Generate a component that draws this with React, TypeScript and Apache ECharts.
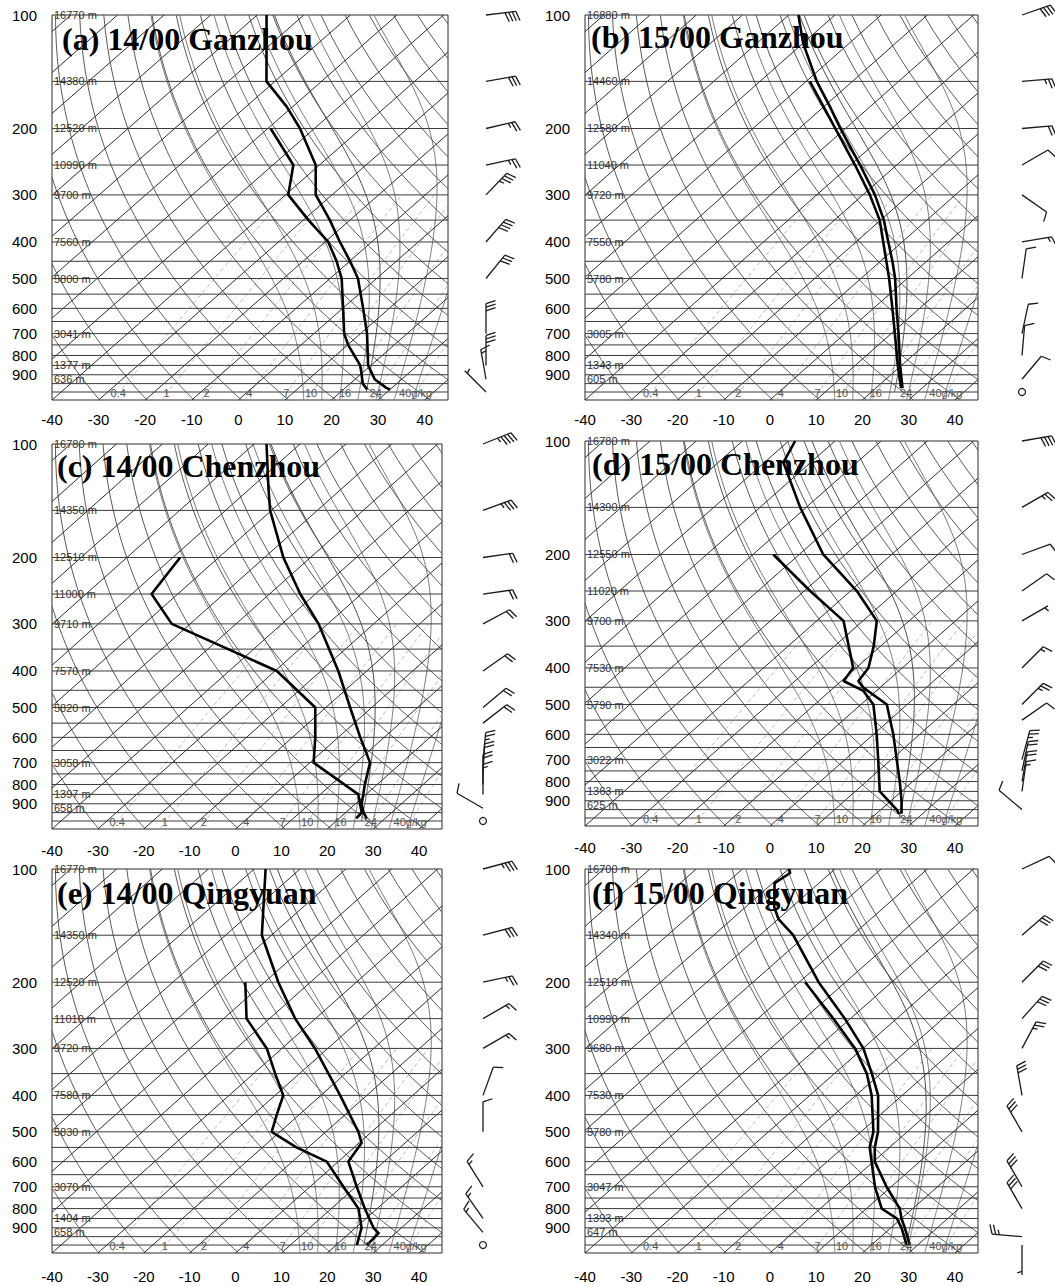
import React, { useEffect, useRef } from 'react';
import * as echarts from 'echarts';

// ---------------- data ----------------
const PANEL_TITLES = [
  '(a) 14/00 Ganzhou',
  '(b) 15/00 Ganzhou',
  '(c) 14/00 Chenzhou',
  '(d) 15/00 Chenzhou',
  '(e) 14/00 Qingyuan',
  '(f) 15/00 Qingyuan',
];
const PRESSURE_TICKS = [100, 200, 300, 400, 500, 600, 700, 800, 900];
const TEMP_TICKS = [-40, -30, -20, -10, 0, 10, 20, 30, 40];
const ISOBARS = [150, 200, 250, 300, 350, 400, 450, 500, 550, 600, 650, 700, 750, 800, 850, 900, 950, 1000];
const ISOTHERMS = [-130, -120, -110, -100, -90, -80, -70, -60, -50, -40, -30, -20, -10, 0, 10, 20, 30, 40];
const DRY_ADIABATS_K = [230, 240, 250, 260, 270, 280, 290, 300, 310, 320, 330, 340, 350, 360, 370, 380, 390, 400, 410, 420, 430, 440];
const MOIST_ADIABATS_C = [12, 16, 20, 24, 28, 32, 36];
const MIXING_RATIOS = [0.4, 1, 2, 4, 7, 10, 16, 24, 40];
const MIXING_LABELS = ['0.4', '1', '2', '4', '7', '10', '16', '24', '40g/kg'];
const HEIGHT_LEVELS = [100, 150, 200, 250, 300, 400, 500, 700, 850, 925];

const HEIGHTS_A = [16770, 14380, 12520, 10990, 9700, 7560, 5800, 3041, 1377, 636];
const HEIGHTS_B = [16880, 14460, 12580, 11040, 9720, 7550, 5780, 3005, 1343, 605];
const HEIGHTS_C = [16780, 14350, 12510, 11000, 9710, 7570, 5820, 3058, 1397, 658];
const HEIGHTS_D = [16780, 14390, 12550, 11020, 9700, 7530, 5790, 3022, 1363, 625];
const HEIGHTS_E = [16770, 14350, 12520, 11010, 9720, 7580, 5830, 3070, 1404, 658];
const HEIGHTS_F = [16700, 14340, 12510, 10990, 9680, 7530, 5780, 3047, 1393, 647];

// [pressure hPa, temperature degC]
const TEMP_A = [[100, -88.0], [150, -71.8], [175, -61.3], [200, -53.1], [250, -40.8], [300, -33.5], [350, -24.3], [400, -16.8], [450, -9.9], [500, -4.0], [600, 4.4], [700, 11.4], [850, 19.4], [925, 24.2], [975, 28.8], [985, 30.0]];
const DEWP_A = [[200, -59.4], [250, -45.6], [300, -39.4], [350, -28.9], [400, -19.3], [450, -12.8], [500, -7.5], [600, 0.1], [700, 6.5], [750, 10.1], [850, 17.7], [900, 20.3], [950, 22.7], [985, 25.1]];
const TEMP_B = [[100, -87.9], [119, -79.9], [150, -67.7], [175, -58.7], [200, -51.1], [250, -37.9], [300, -27.4], [350, -19.3], [400, -13.0], [450, -7.4], [500, -2.6], [600, 5.0], [700, 11.6], [850, 19.7], [925, 23.4], [977, 25.8]];
const DEWP_B = [[150, -69.2], [200, -52.2], [250, -39.0], [300, -28.5], [350, -20.2], [400, -14.1], [500, -3.9], [600, 4.1], [700, 10.8], [850, 19.2], [925, 23.0], [977, 25.5]];
const TEMP_C = [[100, -87.3], [130, -76.4], [150, -70.3], [200, -55.9], [250, -43.3], [300, -32.0], [400, -16.2], [500, -4.7], [600, 4.8], [700, 13.1], [800, 17.3], [850, 19.4], [900, 21.3], [950, 23.9], [984, 26.0]];
const DEWP_C = [[200, -78.4], [250, -75.7], [300, -64.0], [400, -29.6], [500, -12.3], [600, -5.0], [700, 0.8], [850, 18.3], [950, 23.5], [984, 23.7]];
const TEMP_D = [[100, -88.6], [114, -85.9], [150, -71.3], [200, -54.8], [250, -38.6], [300, -27.0], [350, -21.5], [400, -17.3], [433, -16.3], [451, -13.6], [500, -4.4], [600, 4.3], [700, 11.2], [800, 17.2], [900, 22.3], [975, 25.5]];
const DEWP_D = [[200, -65.6], [250, -48.7], [300, -34.2], [350, -26.9], [400, -20.6], [433, -19.5], [460, -12.8], [500, -7.3], [600, 0.7], [700, 7.2], [850, 15.3], [950, 23.4], [975, 25.0]];
const TEMP_E = [[100, -87.5], [150, -72.1], [200, -57.0], [250, -44.4], [300, -32.8], [400, -15.8], [500, -2.9], [535, 0.5], [600, 2.2], [700, 10.2], [800, 17.3], [900, 23.9], [930, 26.3], [1000, 26.7]];
const DEWP_E = [[200, -64.2], [250, -55.0], [300, -43.3], [350, -35.3], [400, -28.2], [450, -24.9], [500, -21.8], [550, -12.6], [600, -2.5], [700, 7.3], [800, 15.9], [850, 18.7], [900, 21.3], [1000, 24.5]];
const TEMP_F = [[100, -89.9], [102.5, -88.7], [109, -89.6], [126, -83.9], [136, -79.9], [150, -72.8], [200, -55.8], [250, -41.2], [300, -29.9], [350, -21.9], [400, -15.2], [500, -6.3], [550, -3.2], [600, 0.3], [700, 9.0], [800, 17.2], [850, 20.0], [900, 23.0], [1000, 28.3]];
const DEWP_F = [[200, -58.7], [250, -43.7], [300, -31.7], [350, -23.0], [400, -16.6], [500, -7.3], [550, -4.3], [600, -0.4], [700, 6.5], [800, 13.3], [850, 19.0], [900, 22.3], [1000, 27.6]];

// parcel (moist adiabat) starting temperature at 1000 hPa
const PARCEL_START = [25.5, 25.0, 25.5, 26.0, 26.0, 27.5];

// [pressure hPa, direction deg (from), speed m/s]
const WIND_A = [[100, 83, 16], [150, 80, 12], [200, 77, 10], [250, 78, 10], [300, 44, 14], [400, 41, 16], [500, 39, 12], [700, 0, 12], [850, 0, 12], [925, 350, 6], [1000, 315, 2]];
const WIND_B = [[100, 71, 16], [150, 85, 10], [200, 85, 8], [250, 60, 4], [300, 125, 4], [400, 80, 6], [500, 8, 4], [700, 12, 4], [800, 5, 4], [925, 40, 4], [1000, 0, 0]];
const WIND_C = [[100, 68, 18], [150, 70, 14], [200, 82, 8], [250, 82, 8], [300, 62, 8], [400, 55, 8], [500, 50, 8], [550, 52, 8], [700, 5, 10], [750, 3, 8], [800, 0, 8], [850, 0, 6], [925, 300, 4], [1000, 0, 0]];
const WIND_D = [[100, 80, 16], [150, 60, 10], [200, 70, 4], [250, 55, 4], [300, 60, 2], [400, 45, 6], [500, 45, 10], [550, 55, 4], [700, 15, 10], [750, 12, 8], [800, 10, 8], [850, 8, 6], [950, 310, 4]];
const WIND_E = [[100, 75, 14], [150, 75, 12], [200, 78, 10], [250, 60, 6], [300, 60, 6], [400, 20, 4], [500, 0, 4], [700, 328, 6], [850, 325, 6], [925, 320, 6], [1000, 0, 0]];
const WIND_F = [[100, 65, 4], [150, 49, 12], [200, 45, 12], [250, 42, 12], [300, 28, 10], [400, 350, 12], [500, 330, 12], [700, 330, 12], [800, 330, 12], [950, 275, 10], [1000, 180, 2]];

// ---------------- layout ----------------
const GRIDS = [
  { left: 52, top: 15, width: 396, height: 385 },
  { left: 585, top: 15, width: 393, height: 385 },
  { left: 52, top: 444, width: 390, height: 385 },
  { left: 585, top: 441, width: 393, height: 385 },
  { left: 52, top: 869, width: 390, height: 384 },
  { left: 585, top: 869, width: 393, height: 384 },
];
const TITLE_POS = [
  { left: 62, top: 23 },
  { left: 591, top: 21 },
  { left: 57, top: 450 },
  { left: 592, top: 448 },
  { left: 57, top: 877 },
  { left: 592, top: 877 },
];
const X_LABEL_MARGIN = [12, 12, 14, 14, 16, 16];
const BARB_GAP = [38, 44, 41, 44, 41, 44];

const SANS = '"Liberation Sans", Arial, Helvetica, sans-serif';
const SERIF = '"Liberation Serif", "Times New Roman", serif';

// ---------------- skew-T geometry ----------------
const K = 40; // skew (deg C per unit ln p)
const P0 = 1050;
const XMIN = -40;
const XMAX = 45;
const LNP_TOP = Math.log(100);
const LNP_BOT = Math.log(1050);
const skewX = (p: number, t: number) => t + K * Math.log(P0 / p);

const Rd = 287.04, Cp = 1005.7, Lv = 2.501e6, EPS = 0.622;
const esat = (tc: number) => 6.112 * Math.exp((17.67 * tc) / (tc + 243.5));
function dTdp(p: number, tk: number) {
  const e = esat(tk - 273.15);
  const rs = (EPS * e) / (p - e);
  return (Rd * tk + Lv * rs) / (p * (Cp + (Lv * Lv * rs * EPS) / (Rd * tk * tk)));
}
function moist(t0: number, pStart: number, pEnd: number) {
  const out: number[][] = [];
  let p = pStart;
  let t = t0 + 273.15;
  const h = pEnd < pStart ? -5 : 5;
  out.push([p, t - 273.15]);
  while ((h < 0 && p > pEnd) || (h > 0 && p < pEnd)) {
    const k1 = dTdp(p, t);
    const k2 = dTdp(p + h / 2, t + (h / 2) * k1);
    const k3 = dTdp(p + h / 2, t + (h / 2) * k2);
    const k4 = dTdp(p + h, t + h * k3);
    t += (h / 6) * (k1 + 2 * k2 + 2 * k3 + k4);
    p += h;
    out.push([p, t - 273.15]);
  }
  return out;
}
function dewFromMix(p: number, w: number) {
  const r = w / 1000;
  const e = (p * r) / (EPS + r);
  const l = Math.log(e / 6.112);
  return (243.5 * l) / (17.67 - l);
}

function clipPolyline(pts: number[][]) {
  const out: number[][][] = [];
  let cur: number[][] = [];
  for (let i = 0; i < pts.length - 1; i++) {
    const [x1, y1] = pts[i];
    const [x2, y2] = pts[i + 1];
    const dx = x2 - x1;
    let t0 = 0, t1 = 1;
    if (Math.abs(dx) < 1e-12) {
      if (x1 < XMIN || x1 > XMAX) { t0 = 1; t1 = 0; }
    } else {
      let ta = (XMIN - x1) / dx, tb = (XMAX - x1) / dx;
      if (ta > tb) { const s = ta; ta = tb; tb = s; }
      t0 = Math.max(0, ta);
      t1 = Math.min(1, tb);
    }
    if (t0 > t1) {
      if (cur.length > 1) out.push(cur);
      cur = [];
      continue;
    }
    const a = [x1 + dx * t0, y1 + (y2 - y1) * t0];
    const b = [x1 + dx * t1, y1 + (y2 - y1) * t1];
    if (cur.length === 0) cur.push(a);
    else {
      const l = cur[cur.length - 1];
      if (Math.abs(l[0] - a[0]) > 1e-9 || Math.abs(l[1] - a[1]) > 1e-9) {
        if (cur.length > 1) out.push(cur);
        cur = [a];
      }
    }
    cur.push(b);
    if (t1 < 1) {
      if (cur.length > 1) out.push(cur);
      cur = [];
    }
  }
  if (cur.length > 1) out.push(cur);
  return out;
}

const PSAMPLE: number[] = [];
for (let p = 1050; p >= 100; p -= 10) PSAMPLE.push(p);

function isothermLines() {
  const res: number[][][] = [];
  ISOTHERMS.forEach((t) => {
    res.push(...clipPolyline([[skewX(1050, t), LNP_BOT], [skewX(100, t), LNP_TOP]]));
  });
  return res;
}
function dryLines() {
  const res: number[][][] = [];
  DRY_ADIABATS_K.forEach((th) => {
    const pts = PSAMPLE.map((p) => [skewX(p, th * Math.pow(p / 1000, 0.2857) - 273.15), Math.log(p)]);
    res.push(...clipPolyline(pts));
  });
  return res;
}
function moistLines() {
  const res: number[][][] = [];
  MOIST_ADIABATS_C.forEach((t0) => {
    const up = moist(t0, 1000, 100);
    const down = moist(t0, 1000, 1050).reverse();
    const all = down.concat(up.slice(1));
    res.push(...clipPolyline(all.map(([p, t]) => [skewX(p, t), Math.log(p)])));
  });
  return res;
}
function mixingLines() {
  const res: number[][][] = [];
  MIXING_RATIOS.forEach((w) => {
    const pts: number[][] = [];
    for (let p = 1050; p >= 300; p -= 10) pts.push([skewX(p, dewFromMix(p, w)), Math.log(p)]);
    res.push(...clipPolyline(pts));
  });
  return res;
}
function isobarLines() {
  return ISOBARS.map((p) => [[XMIN, Math.log(p)], [XMAX, Math.log(p)]]);
}

const PANELS = [
  { heights: HEIGHTS_A, temp: TEMP_A, dewp: DEWP_A, wind: WIND_A },
  { heights: HEIGHTS_B, temp: TEMP_B, dewp: DEWP_B, wind: WIND_B },
  { heights: HEIGHTS_C, temp: TEMP_C, dewp: DEWP_C, wind: WIND_C },
  { heights: HEIGHTS_D, temp: TEMP_D, dewp: DEWP_D, wind: WIND_D },
  { heights: HEIGHTS_E, temp: TEMP_E, dewp: DEWP_E, wind: WIND_E },
  { heights: HEIGHTS_F, temp: TEMP_F, dewp: DEWP_F, wind: WIND_F },
];

function barbElements(sx: number, sy: number, dirDeg: number, spd: number) {
  const stroke = '#1a1a1a';
  const els: any[] = [];
  const ln = (x1: number, y1: number, x2: number, y2: number) => ({
    type: 'line',
    shape: { x1, y1, x2, y2 },
    style: { stroke, lineWidth: 1.3 },
  });
  if (spd < 1) {
    els.push({ type: 'circle', shape: { cx: sx, cy: sy, r: 3.5 }, style: { stroke, fill: 'none', lineWidth: 1.2 } });
    return els;
  }
  const d = (dirDeg * Math.PI) / 180;
  const ux = Math.sin(d), uy = -Math.cos(d);
  const nx = -uy, ny = ux;
  const L = 30, BL = 10, SP = 3.6;
  const tx = sx + ux * L, ty = sy + uy * L;
  els.push(ln(sx, sy, tx, ty));
  const a = (72 * Math.PI) / 180;
  const bx = nx * Math.sin(a) + ux * Math.cos(a);
  const by = ny * Math.sin(a) + uy * Math.cos(a);
  let rem = Math.round(spd / 2) * 2;
  let pos = 0;
  while (rem >= 20) {
    const px = tx - ux * pos, py = ty - uy * pos;
    const qx = tx - ux * (pos + SP * 1.6), qy = ty - uy * (pos + SP * 1.6);
    els.push({ type: 'polygon', shape: { points: [[px, py], [px + bx * BL, py + by * BL], [qx, qy]] }, style: { fill: stroke } });
    rem -= 20;
    pos += SP * 2;
  }
  while (rem >= 4) {
    const px = tx - ux * pos, py = ty - uy * pos;
    els.push(ln(px, py, px + bx * BL, py + by * BL));
    rem -= 4;
    pos += SP;
  }
  if (rem >= 2) {
    if (pos === 0) pos = SP;
    const px = tx - ux * pos, py = ty - uy * pos;
    els.push(ln(px, py, px + (bx * BL) / 2, py + (by * BL) / 2));
  }
  return els;
}

function buildOption() {
  const grid: any[] = [];
  const xAxis: any[] = [];
  const yAxis: any[] = [];
  const title: any[] = [];
  const series: any[] = [];
  const isoT = isothermLines();
  const dry = dryLines();
  const wet = moistLines();
  const mix = mixingLines();
  const bars = isobarLines();
  const labP = 1008;

  PANELS.forEach((pn, i) => {
    grid.push({ ...GRIDS[i], show: true, borderColor: '#2a2a2a', borderWidth: 1, backgroundColor: '#fff' });
    xAxis.push({
      type: 'value', gridIndex: i, min: XMIN, max: XMAX, interval: 10,
      axisLine: { show: false }, axisTick: { show: false }, splitLine: { show: false },
      axisLabel: { customValues: TEMP_TICKS, margin: X_LABEL_MARGIN[i], color: '#000', fontSize: 15, fontFamily: SANS, formatter: (v: number) => String(v) },
    });
    yAxis.push({
      type: 'value', gridIndex: i, inverse: true, min: LNP_TOP, max: LNP_BOT,
      axisLine: { show: false }, axisTick: { show: false }, splitLine: { show: false },
      axisLabel: {
        customValues: PRESSURE_TICKS.map((p) => Math.log(p)), margin: 15, color: '#000', fontSize: 15, fontFamily: SANS,
        formatter: (v: number) => String(Math.round(Math.exp(v))),
      },
    });
    title.push({
      text: PANEL_TITLES[i], left: TITLE_POS[i].left, top: TITLE_POS[i].top, padding: 0,
      textStyle: { fontFamily: SERIF, fontWeight: 'bold', fontSize: 32, color: '#000' },
    });

    const bg = (data: number[][][], color: string, width: number, z: number, type: any = 'solid') => ({
      type: 'lines', coordinateSystem: 'cartesian2d', xAxisIndex: i, yAxisIndex: i, polyline: true, silent: true, z,
      lineStyle: { color, width, opacity: 1, type, curveness: 0 },
      data: data.map((c) => ({ coords: c })),
    });
    series.push(bg(mix, '#a8a8a8', 0.8, 1, [4, 3]));
    series.push(bg(wet, '#7a7a7a', 1, 1));
    series.push(bg(dry, '#5a5a5a', 1, 1));
    series.push(bg(isoT, '#2e2e2e', 1, 1));
    series.push(bg(bars, '#3a3a3a', 1, 1));

    // parcel curve
    series.push({
      type: 'line', xAxisIndex: i, yAxisIndex: i, symbol: 'none', silent: true, z: 3,
      lineStyle: { color: '#4a4a4a', width: 1 },
      data: moist(PARCEL_START[i], 1000, 100).map(([p, t]) => [skewX(p, t), Math.log(p)]),
    });
    // dew point and temperature
    [pn.dewp, pn.temp].forEach((prof) => {
      series.push({
        type: 'line', xAxisIndex: i, yAxisIndex: i, symbol: 'none', silent: true, z: 5,
        lineStyle: { color: '#000', width: 2.6, join: 'round' },
        data: prof.map(([p, t]) => [skewX(p, t), Math.log(p)]),
      });
    });
    // height labels
    series.push({
      type: 'custom', xAxisIndex: i, yAxisIndex: i, clip: false, silent: true, z: 6,
      encode: { x: 0, y: 1 },
      data: HEIGHT_LEVELS.map((p, k) => [XMIN, Math.log(p), pn.heights[k]]),
      renderItem: (params: any, api: any) => {
        const pt = api.coord([api.value(0), api.value(1)]);
        return {
          type: 'text', x: pt[0] + 2, y: pt[1],
          style: { text: api.value(2) + ' m', fill: '#333', fontSize: 11, fontFamily: SANS, align: 'left', verticalAlign: 'middle' },
        };
      },
    });
    // mixing ratio labels
    series.push({
      type: 'custom', xAxisIndex: i, yAxisIndex: i, clip: false, silent: true, z: 6,
      encode: { x: 0, y: 1 },
      data: MIXING_RATIOS.map((w, k) => [skewX(labP, dewFromMix(labP, w)), Math.log(labP), k]),
      renderItem: (params: any, api: any) => {
        const pt = api.coord([api.value(0), api.value(1)]);
        return {
          type: 'text', x: pt[0], y: pt[1],
          style: { text: MIXING_LABELS[api.value(2)], fill: '#555', fontSize: 11, fontFamily: SANS, align: 'center', verticalAlign: 'middle' },
        };
      },
    });
    // wind barbs
    const gap = BARB_GAP[i];
    series.push({
      type: 'custom', xAxisIndex: i, yAxisIndex: i, clip: false, silent: true, z: 6,
      encode: { x: 0, y: 1 },
      data: pn.wind.map(([p, d, s]) => [XMAX, Math.log(p), d, s]),
      renderItem: (params: any, api: any) => {
        const pt = api.coord([api.value(0), api.value(1)]);
        return { type: 'group', children: barbElements(pt[0] + gap, pt[1], api.value(2), api.value(3)) };
      },
    });
  });

  return { animation: false, backgroundColor: '#fff', grid, xAxis, yAxis, title, series };
}

export default function App() {
  const ref = useRef<HTMLDivElement>(null);
  useEffect(() => {
    if (!ref.current) return;
    const chart = echarts.init(ref.current, null, { renderer: 'svg' });
    chart.setOption(buildOption() as any);
    return () => chart.dispose();
  }, []);
  return (
    <div
      ref={ref}
      style={{ position: 'absolute', left: 0, top: 0, width: 1055, height: 1286, background: '#fff' }}
    />
  );
}
